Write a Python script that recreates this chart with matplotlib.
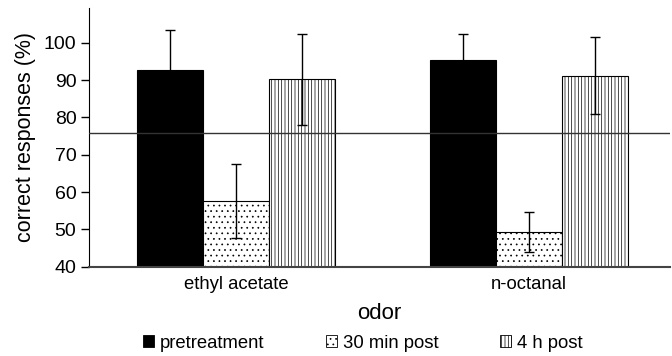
import matplotlib.pyplot as plt
import numpy as np
from matplotlib.patches import Patch

plt.rcParams['font.family'] = ['Liberation Sans', 'DejaVu Sans']
plt.rcParams['hatch.linewidth'] = 0.5

odors = ['ethyl acetate', 'n-octanal']
groups = ['pretreatment', '30 min post', '4 h post']
means = [[92.7, 95.4],
         [57.6, 49.3],
         [90.2, 91.2]]
errors = [[10.6, 7.0],
          [10.0, 5.4],
          [12.2, 10.4]]
criterion = 75.8

hatches = ['', '...', '|||||']
faces = ['black', 'white', 'white']

fig = plt.figure(figsize=(6.72, 3.56), dpi=100)
ax = fig.add_axes([0.1324, 0.251, 0.865, 0.7265])

x = np.arange(len(odors))
w = 0.225
for i, g in enumerate(groups):
    ax.bar(x + (i - 1) * w, np.array(means[i]) - 40, w, bottom=40,
           color=faces[i], edgecolor='black', hatch=hatches[i],
           linewidth=0.8, zorder=2)
    ax.errorbar(x + (i - 1) * w, means[i], yerr=errors[i], fmt='none',
                ecolor='black', elinewidth=1, capsize=3.5, capthick=1,
                zorder=4)

ax.axhline(criterion, color='#333333', linewidth=1, zorder=3)

ax.set_ylim(40, 109.3)
ax.set_xlim(-0.502, 1.481)
ax.set_yticks([40, 50, 60, 70, 80, 90, 100])
ax.set_xticks(x)
ax.set_xticklabels(odors)
ax.tick_params(axis='x', length=0, labelsize=13.3, pad=7)
ax.tick_params(axis='y', length=6, width=1, labelsize=14, direction='out',
               pad=3)
ax.spines['top'].set_visible(False)
ax.spines['right'].set_visible(False)
ax.spines['bottom'].set_color('#444444')
ax.spines['bottom'].set_linewidth(1.5)
ax.set_ylabel('correct responses (%)', fontsize=15.5, labelpad=6)
ax.set_xlabel('odor', fontsize=16, labelpad=7)

handles = [Patch(facecolor=faces[i], edgecolor='black', hatch=hatches[i],
                 linewidth=0.6) for i in range(3)]
fig.legend(handles, groups, loc='center', ncol=3, frameon=False,
           fontsize=13.3, bbox_to_anchor=(0.54, 0.0365), handlelength=0.6,
           handleheight=0.6, columnspacing=3.3, handletextpad=0.35,
           borderaxespad=0, borderpad=0)

fig.savefig('out.png', dpi=100)
